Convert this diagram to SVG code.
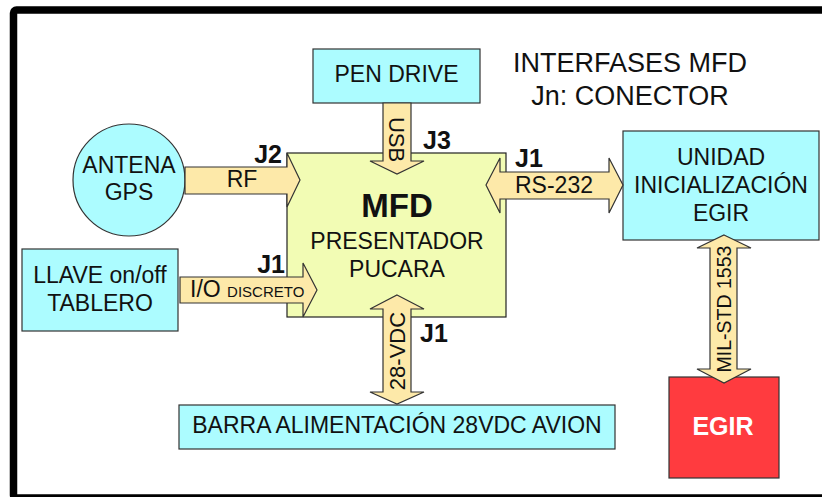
<svg xmlns="http://www.w3.org/2000/svg" width="822" height="497" viewBox="0 0 822 497">
<style>
.box{fill:#acfcff;stroke:#333;stroke-width:1.2}
.mfd{fill:#f2fcb4;stroke:#222;stroke-width:1.2}
.arr{fill:#fde9a9;stroke:#333;stroke-width:1.2;stroke-linejoin:miter}
text{font-family:"Liberation Sans",Arial,sans-serif;fill:#111}
.t{font-size:23px;text-anchor:middle}
.lbl{font-size:23px}
.j{font-size:25px;font-weight:bold}
</style>
<rect x="0" y="0" width="822" height="497" fill="#fff"/>
<rect x="13.5" y="10" width="822" height="488" rx="3" fill="none" stroke="#000" stroke-width="7.5"/>
<g id="title">
<text class="t" x="630" y="72" style="font-size:27px">INTERFASES MFD</text>
<text class="t" x="630" y="105" style="font-size:27px">Jn: CONECTOR</text>
</g>
<g id="pendrive">
<rect class="box" x="313" y="49" width="167" height="54"/>
<text class="t" x="396.5" y="82">PEN DRIVE</text>
</g>
<g id="antena">
<circle class="box" cx="129" cy="180" r="56"/>
<text class="t" x="129" y="173">ANTENA</text>
<text class="t" x="129" y="200">GPS</text>
</g>
<g id="mfd">
<rect class="mfd" x="287" y="153" width="219" height="164"/>
<text class="t" x="397" y="217" style="font-size:33px;font-weight:bold">MFD</text>
<text class="t" x="397" y="249">PRESENTADOR</text>
<text class="t" x="397" y="277">PUCARA</text>
</g>
<g id="unidad">
<rect class="box" x="623" y="131" width="196" height="109"/>
<text class="t" x="721" y="165">UNIDAD</text>
<text class="t" x="721" y="193">INICIALIZACIÓN</text>
<text class="t" x="721" y="221">EGIR</text>
</g>
<g id="llave">
<rect class="box" x="22" y="249" width="156" height="82"/>
<text class="t" x="100" y="283">LLAVE on/off</text>
<text class="t" x="100" y="311">TABLERO</text>
</g>
<g id="barra">
<rect class="box" x="179" y="405" width="436" height="44"/>
<text class="t" x="397" y="433">BARRA ALIMENTACIÓN 28VDC AVION</text>
</g>
<g id="egir">
<rect x="669" y="377" width="110" height="101" fill="#ff3b3f" stroke="#333" stroke-width="1.2"/>
<text class="t" x="723" y="435" style="font-size:25px;font-weight:bold;fill:#fff">EGIR</text>
</g>
<g id="connectors">
<polygon class="arr" points="185,167 287,167 287,153 300,180 287,207 287,194 185,194"/>
<text class="lbl" x="242" y="187" text-anchor="middle">RF</text>
<text class="j" x="282" y="163" text-anchor="end">J2</text>

<polygon class="arr" points="383,103 411,103 411,161 424,161 397,174 370,161 383,161"/>
<text class="lbl" transform="translate(397,139.5) rotate(90)" x="0" y="8" text-anchor="middle" style="font-size:22px">USB</text>
<text class="j" x="423" y="149">J3</text>

<polygon class="arr" points="486,185 500,158 500,172 609,172 609,158 623,185 609,213 609,199 500,199 500,213"/>
<text class="j" x="515" y="167">J1</text>
<text class="lbl" x="554" y="193" text-anchor="middle">RS-232</text>

<polygon class="arr" points="180,277 303,277 303,263 317,290 303,317 303,303 180,303"/>
<text class="j" x="285" y="273" text-anchor="end">J1</text>
<text x="190" y="297"><tspan style="font-size:23px">I/O </tspan><tspan style="font-size:15px">DISCRETO</tspan></text>

<polygon class="arr" points="397,295 424,309 411,309 411,392 424,392 397,404 370,392 383,392 383,309 370,309"/>
<text class="lbl" transform="translate(397,351) rotate(-90)" x="0" y="8" text-anchor="middle" style="font-size:22px">28-VDC</text>
<text class="j" x="420" y="342">J1</text>

<polygon class="arr" points="724,235 751,248 737,248 737,369 751,369 724,383 697,369 710,369 710,248 697,248"/>
<text class="lbl" transform="translate(724,309) rotate(-90)" x="0" y="7" text-anchor="middle" style="font-size:19.5px">MIL-STD 1553</text>
</g>
</svg>
